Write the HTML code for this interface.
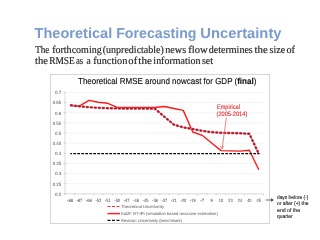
<!DOCTYPE html>
<html><head><meta charset="utf-8"><style>
html,body{margin:0;padding:0;background:#fff;width:320px;height:240px;overflow:hidden}
svg{display:block;filter:blur(0.3px)} text{text-rendering:geometricPrecision}
</style></head><body>
<svg width="320" height="240" viewBox="0 0 320 240">
<rect width="320" height="240" fill="#fff"/>
<g font-family="Liberation Sans" font-weight="bold" font-size="14.5" fill="#7a9bcd"><text x="34.55" y="37.5" textLength="77.66" lengthAdjust="spacingAndGlyphs">Theoretical</text><text x="116.23" y="37.5" textLength="80.28" lengthAdjust="spacingAndGlyphs">Forecasting</text><text x="200.30" y="37.5" textLength="81.22" lengthAdjust="spacingAndGlyphs">Uncertainty</text></g>
<g font-family="Liberation Serif" font-size="10.5" fill="#1a1a1a" stroke="#1a1a1a" stroke-width="0.15">
<text x="35.16" y="52.6" textLength="14.20" lengthAdjust="spacingAndGlyphs">The</text><text x="52.15" y="52.6" textLength="49.57" lengthAdjust="spacingAndGlyphs">forthcoming</text><text x="102.75" y="52.6" textLength="61.12" lengthAdjust="spacingAndGlyphs">(unpredictable)</text><text x="165.25" y="52.6" textLength="20.84" lengthAdjust="spacingAndGlyphs">news</text><text x="188.19" y="52.6" textLength="19.45" lengthAdjust="spacingAndGlyphs">flow</text><text x="208.77" y="52.6" textLength="44.01" lengthAdjust="spacingAndGlyphs">determines</text><text x="254.59" y="52.6" textLength="13.26" lengthAdjust="spacingAndGlyphs">the</text><text x="269.57" y="52.6" textLength="15.53" lengthAdjust="spacingAndGlyphs">size</text><text x="286.45" y="52.6" textLength="8.48" lengthAdjust="spacingAndGlyphs">of</text>
<text x="35.08" y="63.6" textLength="12.94" lengthAdjust="spacingAndGlyphs">the</text><text x="49.15" y="63.6" textLength="25.64" lengthAdjust="spacingAndGlyphs">RMSE</text><text x="76.01" y="63.6" textLength="7.24" lengthAdjust="spacingAndGlyphs">as</text><text x="86.40" y="63.6" textLength="4.25" lengthAdjust="spacingAndGlyphs">a</text><text x="93.17" y="63.6" textLength="34.19" lengthAdjust="spacingAndGlyphs">function</text><text x="128.37" y="63.6" textLength="8.84" lengthAdjust="spacingAndGlyphs">of</text><text x="138.39" y="63.6" textLength="13.62" lengthAdjust="spacingAndGlyphs">the</text><text x="153.37" y="63.6" textLength="47.11" lengthAdjust="spacingAndGlyphs">information</text><text x="201.97" y="63.6" textLength="11.10" lengthAdjust="spacingAndGlyphs">set</text>
</g>
<rect x="50.5" y="74.5" width="219" height="149" fill="#fff" stroke="#d6d6d6" stroke-width="1"/>
<text x="78" y="84" font-family="Liberation Sans" font-size="8.7" fill="#111" stroke="#111" stroke-width="0.15" textLength="178.3" lengthAdjust="spacingAndGlyphs">Theoretical RMSE around nowcast for GDP (<tspan font-weight="bold">final</tspan>)</text>
<line x1="64" y1="92.40" x2="263.5" y2="92.40" stroke="#f4f4f4" stroke-width="1"/><line x1="64" y1="102.54" x2="263.5" y2="102.54" stroke="#f4f4f4" stroke-width="1"/><line x1="64" y1="112.68" x2="263.5" y2="112.68" stroke="#f4f4f4" stroke-width="1"/><line x1="64" y1="122.82" x2="263.5" y2="122.82" stroke="#f4f4f4" stroke-width="1"/><line x1="64" y1="132.96" x2="263.5" y2="132.96" stroke="#f4f4f4" stroke-width="1"/><line x1="64" y1="143.10" x2="263.5" y2="143.10" stroke="#f4f4f4" stroke-width="1"/><line x1="64" y1="153.24" x2="263.5" y2="153.24" stroke="#f4f4f4" stroke-width="1"/><line x1="64" y1="163.38" x2="263.5" y2="163.38" stroke="#f4f4f4" stroke-width="1"/><line x1="64" y1="173.52" x2="263.5" y2="173.52" stroke="#f4f4f4" stroke-width="1"/><line x1="64" y1="183.66" x2="263.5" y2="183.66" stroke="#f4f4f4" stroke-width="1"/>
<line x1="65" y1="92.40" x2="65" y2="193.80" stroke="#d0d0d0" stroke-width="0.8"/>
<line x1="64" y1="193.80" x2="263.5" y2="193.80" stroke="#d0d0d0" stroke-width="0.8"/>
<line x1="63.5" y1="92.40" x2="65.5" y2="92.40" stroke="#c8c8c8" stroke-width="0.8"/><line x1="63.5" y1="102.54" x2="65.5" y2="102.54" stroke="#c8c8c8" stroke-width="0.8"/><line x1="63.5" y1="112.68" x2="65.5" y2="112.68" stroke="#c8c8c8" stroke-width="0.8"/><line x1="63.5" y1="122.82" x2="65.5" y2="122.82" stroke="#c8c8c8" stroke-width="0.8"/><line x1="63.5" y1="132.96" x2="65.5" y2="132.96" stroke="#c8c8c8" stroke-width="0.8"/><line x1="63.5" y1="143.10" x2="65.5" y2="143.10" stroke="#c8c8c8" stroke-width="0.8"/><line x1="63.5" y1="153.24" x2="65.5" y2="153.24" stroke="#c8c8c8" stroke-width="0.8"/><line x1="63.5" y1="163.38" x2="65.5" y2="163.38" stroke="#c8c8c8" stroke-width="0.8"/><line x1="63.5" y1="173.52" x2="65.5" y2="173.52" stroke="#c8c8c8" stroke-width="0.8"/><line x1="63.5" y1="183.66" x2="65.5" y2="183.66" stroke="#c8c8c8" stroke-width="0.8"/><line x1="63.5" y1="193.80" x2="65.5" y2="193.80" stroke="#c8c8c8" stroke-width="0.8"/><line x1="65.28" y1="193.80" x2="65.28" y2="195.30" stroke="#c8c8c8" stroke-width="0.8"/><line x1="74.72" y1="193.80" x2="74.72" y2="195.30" stroke="#c8c8c8" stroke-width="0.8"/><line x1="84.16" y1="193.80" x2="84.16" y2="195.30" stroke="#c8c8c8" stroke-width="0.8"/><line x1="93.60" y1="193.80" x2="93.60" y2="195.30" stroke="#c8c8c8" stroke-width="0.8"/><line x1="103.04" y1="193.80" x2="103.04" y2="195.30" stroke="#c8c8c8" stroke-width="0.8"/><line x1="112.48" y1="193.80" x2="112.48" y2="195.30" stroke="#c8c8c8" stroke-width="0.8"/><line x1="121.92" y1="193.80" x2="121.92" y2="195.30" stroke="#c8c8c8" stroke-width="0.8"/><line x1="131.36" y1="193.80" x2="131.36" y2="195.30" stroke="#c8c8c8" stroke-width="0.8"/><line x1="140.80" y1="193.80" x2="140.80" y2="195.30" stroke="#c8c8c8" stroke-width="0.8"/><line x1="150.24" y1="193.80" x2="150.24" y2="195.30" stroke="#c8c8c8" stroke-width="0.8"/><line x1="159.68" y1="193.80" x2="159.68" y2="195.30" stroke="#c8c8c8" stroke-width="0.8"/><line x1="169.12" y1="193.80" x2="169.12" y2="195.30" stroke="#c8c8c8" stroke-width="0.8"/><line x1="178.56" y1="193.80" x2="178.56" y2="195.30" stroke="#c8c8c8" stroke-width="0.8"/><line x1="188.00" y1="193.80" x2="188.00" y2="195.30" stroke="#c8c8c8" stroke-width="0.8"/><line x1="197.44" y1="193.80" x2="197.44" y2="195.30" stroke="#c8c8c8" stroke-width="0.8"/><line x1="206.88" y1="193.80" x2="206.88" y2="195.30" stroke="#c8c8c8" stroke-width="0.8"/><line x1="216.32" y1="193.80" x2="216.32" y2="195.30" stroke="#c8c8c8" stroke-width="0.8"/><line x1="225.76" y1="193.80" x2="225.76" y2="195.30" stroke="#c8c8c8" stroke-width="0.8"/><line x1="235.20" y1="193.80" x2="235.20" y2="195.30" stroke="#c8c8c8" stroke-width="0.8"/><line x1="244.64" y1="193.80" x2="244.64" y2="195.30" stroke="#c8c8c8" stroke-width="0.8"/><line x1="254.08" y1="193.80" x2="254.08" y2="195.30" stroke="#c8c8c8" stroke-width="0.8"/><line x1="263.52" y1="193.80" x2="263.52" y2="195.30" stroke="#c8c8c8" stroke-width="0.8"/>
<g font-family="Liberation Sans" font-size="4.6" fill="#505050"><text x="54.90" y="94.30" textLength="6.4" lengthAdjust="spacingAndGlyphs">0.7</text><text x="52.70" y="104.44" textLength="8.6" lengthAdjust="spacingAndGlyphs">0.65</text><text x="54.90" y="114.58" textLength="6.4" lengthAdjust="spacingAndGlyphs">0.6</text><text x="52.70" y="124.72" textLength="8.6" lengthAdjust="spacingAndGlyphs">0.55</text><text x="54.90" y="134.86" textLength="6.4" lengthAdjust="spacingAndGlyphs">0.5</text><text x="52.70" y="145.00" textLength="8.6" lengthAdjust="spacingAndGlyphs">0.45</text><text x="54.90" y="155.14" textLength="6.4" lengthAdjust="spacingAndGlyphs">0.4</text><text x="52.70" y="165.28" textLength="8.6" lengthAdjust="spacingAndGlyphs">0.35</text><text x="54.90" y="175.42" textLength="6.4" lengthAdjust="spacingAndGlyphs">0.3</text><text x="52.70" y="185.56" textLength="8.6" lengthAdjust="spacingAndGlyphs">0.25</text><text x="54.90" y="195.70" textLength="6.4" lengthAdjust="spacingAndGlyphs">0.2</text></g>
<g font-family="Liberation Sans" font-size="4.6" fill="#444"><text x="67.10" y="201.6" textLength="5.8" lengthAdjust="spacingAndGlyphs">-88</text><text x="76.54" y="201.6" textLength="5.8" lengthAdjust="spacingAndGlyphs">-87</text><text x="85.98" y="201.6" textLength="5.8" lengthAdjust="spacingAndGlyphs">-68</text><text x="95.42" y="201.6" textLength="5.8" lengthAdjust="spacingAndGlyphs">-52</text><text x="104.86" y="201.6" textLength="5.8" lengthAdjust="spacingAndGlyphs">-51</text><text x="114.30" y="201.6" textLength="5.8" lengthAdjust="spacingAndGlyphs">-50</text><text x="123.74" y="201.6" textLength="5.8" lengthAdjust="spacingAndGlyphs">-47</text><text x="133.18" y="201.6" textLength="5.8" lengthAdjust="spacingAndGlyphs">-46</text><text x="142.62" y="201.6" textLength="5.8" lengthAdjust="spacingAndGlyphs">-45</text><text x="152.06" y="201.6" textLength="5.8" lengthAdjust="spacingAndGlyphs">-38</text><text x="161.50" y="201.6" textLength="5.8" lengthAdjust="spacingAndGlyphs">-37</text><text x="170.94" y="201.6" textLength="5.8" lengthAdjust="spacingAndGlyphs">-21</text><text x="180.38" y="201.6" textLength="5.8" lengthAdjust="spacingAndGlyphs">-20</text><text x="189.82" y="201.6" textLength="5.8" lengthAdjust="spacingAndGlyphs">-19</text><text x="199.96" y="201.6" textLength="4.4" lengthAdjust="spacingAndGlyphs">-7</text><text x="210.40" y="201.6" textLength="2.4" lengthAdjust="spacingAndGlyphs">9</text><text x="218.84" y="201.6" textLength="4.4" lengthAdjust="spacingAndGlyphs">10</text><text x="228.28" y="201.6" textLength="4.4" lengthAdjust="spacingAndGlyphs">23</text><text x="237.72" y="201.6" textLength="4.4" lengthAdjust="spacingAndGlyphs">24</text><text x="247.16" y="201.6" textLength="4.4" lengthAdjust="spacingAndGlyphs">40</text><text x="256.60" y="201.6" textLength="4.4" lengthAdjust="spacingAndGlyphs">45</text></g>
<polyline points="70.00,105.2 79.44,106.2 88.88,100.4 98.32,102.3 107.76,103.3 117.20,107.4 126.64,107.4 136.08,107.4 145.52,107.4 154.96,107.5 164.40,106.5 173.84,108.5 183.28,110.4 192.72,132 202.16,135.3 211.60,143 221.04,150.6 230.48,150.9 239.92,151.1 249.36,150.3 258.80,169.8" fill="none" stroke="#ff1a1a" stroke-width="1.4" stroke-linejoin="round"/>
<polyline points="70.00,105.2 79.44,106.3 88.88,107.2 98.32,107.8 107.76,108.2 117.20,108.4 126.64,108.5 136.08,108.5 145.52,108.6 154.96,108.7 164.40,116.8 173.84,124.6 183.28,127.4 192.72,129 202.16,130.8 211.60,132.2 221.04,132.8 230.48,133.0 239.92,133.3 249.36,133.8 258.80,153.8" fill="none" stroke="#f2a0a8" stroke-width="0.9"/>
<polyline points="70.00,105.2 79.44,106.3 88.88,107.2 98.32,107.8 107.76,108.2 117.20,108.4 126.64,108.5 136.08,108.5 145.52,108.6 154.96,108.7 164.40,116.8 173.84,124.6 183.28,127.4 192.72,129 202.16,130.8 211.60,132.2 221.04,132.8 230.48,133.0 239.92,133.3 249.36,133.8 258.80,153.8" fill="none" stroke="#e03040" stroke-width="2.4" stroke-dasharray="1 3" stroke-linecap="round" stroke-dashoffset="-1"/>
<polyline points="70.00,105.2 79.44,106.3 88.88,107.2 98.32,107.8 107.76,108.2 117.20,108.4 126.64,108.5 136.08,108.5 145.52,108.6 154.96,108.7 164.40,116.8 173.84,124.6 183.28,127.4 192.72,129 202.16,130.8 211.60,132.2 221.04,132.8 230.48,133.0 239.92,133.3 249.36,133.8 258.80,153.8" fill="none" stroke="#7a2030" stroke-width="1.25" stroke-dasharray="0.8 3.2" stroke-linecap="round" stroke-dashoffset="-1.1"/>
<line x1="70.4" y1="153.6" x2="259.6" y2="153.6" stroke="#000" stroke-width="1.4" stroke-dasharray="2.6 1.4" stroke-dashoffset="1.05"/>
<g font-family="Liberation Sans" font-size="6.5" fill="#e42a2a" stroke="#e42a2a" stroke-width="0.12">
<text x="216.9" y="109" textLength="23.1" lengthAdjust="spacingAndGlyphs">Empirical</text>
<text x="216.5" y="116.1" textLength="30.8" lengthAdjust="spacingAndGlyphs">(2005-2014)</text>
</g>
<line x1="226.4" y1="117.5" x2="222.2" y2="148.2" stroke="#e86868" stroke-width="0.8"/>
<path d="M220.2,145.6 L222.1,149 L223.7,145.9" fill="none" stroke="#e86868" stroke-width="0.8"/>
<line x1="107.5" y1="206.5" x2="119.5" y2="206.5" stroke="#f03030" stroke-width="1.2" stroke-dasharray="3 1.5"/>
<line x1="107.5" y1="213.6" x2="120" y2="213.6" stroke="#f52525" stroke-width="1.5"/>
<line x1="107.5" y1="220.4" x2="119.5" y2="220.4" stroke="#111" stroke-width="1.1" stroke-dasharray="3 1.5"/>
<g font-family="Liberation Sans" font-size="4.2" fill="#555" text-rendering="geometricPrecision">
<text x="121" y="208" textLength="43" lengthAdjust="spacingAndGlyphs">Theoretical Uncertainty</text>
<text x="121" y="214.9" textLength="96.8" lengthAdjust="spacingAndGlyphs">Kal2F RT-IPI (simulation based recursive estimation)</text>
<text x="121" y="221.5" textLength="61" lengthAdjust="spacingAndGlyphs">Revision Uncertainty (benchmark)</text>
</g>
<line x1="265.9" y1="200" x2="272" y2="200" stroke="#333" stroke-width="0.7"/>
<path d="M271.2,198.3 L273.8,200 L271.2,201.7 Z" fill="#333"/>
<g font-family="Liberation Sans" font-size="5.3" fill="#222" stroke="#222" stroke-width="0.12">
<text x="277" y="198.7" textLength="31.3" lengthAdjust="spacingAndGlyphs">days before  (-)</text>
<text x="277" y="205.2" textLength="31.5" lengthAdjust="spacingAndGlyphs">or after (+) the</text>
<text x="277" y="211.7" textLength="23.1" lengthAdjust="spacingAndGlyphs">end of  the</text>
<text x="277" y="218.2" textLength="15.6" lengthAdjust="spacingAndGlyphs">quarter</text>
</g>
</svg>
</body></html>
